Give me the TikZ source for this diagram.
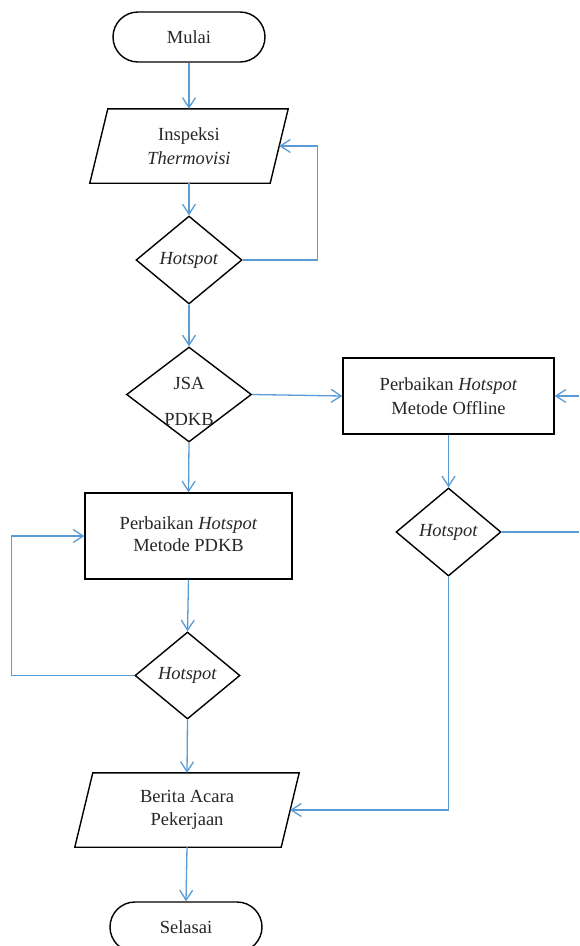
\documentclass[tikz,border=0pt]{standalone}
\usepackage{fontspec}
\setmainfont{Liberation Serif}
\usetikzlibrary{arrows.meta,shapes.geometric,shapes.misc}
\definecolor{flowblue}{RGB}{91,155,213}
\begin{document}
\begin{tikzpicture}[x=1pt,y=-1pt,
  every node/.style={font=\fontsize{18.5}{23.5}\selectfont, align=center, text=black!85},
  outl/.style={draw=black, line width=1.4pt},
  term/.style={outl, rounded rectangle, minimum width=152pt, minimum height=50pt, inner sep=0pt},
  procbox/.style={outl, rectangle, inner sep=0pt},
  decis/.style={outl, diamond, inner sep=0pt},
  iobody/.style={rectangle, inner sep=0pt},
  arr/.style={draw=flowblue, line width=1.3pt, -{Straight Barb[length=10pt,width=13pt]}},
  ln/.style={draw=flowblue, line width=1.3pt}]
\useasboundingbox (0,0) rectangle (579,946);

% nodes
\node[term] (mulai) at (189,37) {\raisebox{-2pt}{Mulai}};

\node[iobody, minimum width=180pt, minimum height=74pt] (insp) at (189,146) {Inspeksi\\\textit{Thermovisi}};
\draw[outl] ([xshift=9pt]insp.north west) -- ([xshift=9pt]insp.north east)
  -- ([xshift=-9pt]insp.south east) -- ([xshift=-9pt]insp.south west) -- cycle;

\node[decis, minimum width=106pt, minimum height=88pt] (hs1) at (189,260) {\textit{Hotspot}};

\node[decis, minimum width=125pt, minimum height=95pt] (jsa) at (189,394.5) {};
\node (jsat) at (189,383) {JSA};
\node (jsab) at (189,419) {PDKB};

\node[procbox, minimum width=211pt, minimum height=76pt] (off) at (448.5,396) {Perbaikan \textit{Hotspot}\\Metode Offline};

\node[decis, minimum width=105pt, minimum height=88pt] (hs2) at (448.5,532) {\textit{Hotspot}};

\node[procbox, minimum width=207pt, minimum height=86pt] (pdkb) at (188.5,536) {\raisebox{4pt}{\shortstack{Perbaikan \textit{Hotspot}\\[2pt]Metode PDKB}}};

\node[decis, minimum width=105pt, minimum height=87pt] (hs3) at (187.5,675.5) {\textit{Hotspot}};

\node[iobody, minimum width=206pt, minimum height=74pt] (berita) at (187,810) {Berita Acara\\Pekerjaan};
\draw[outl] ([xshift=9pt]berita.north west) -- ([xshift=9pt]berita.north east)
  -- ([xshift=-9pt]berita.south east) -- ([xshift=-9pt]berita.south west) -- cycle;

\node[term] (selesai) at (186,927) {\raisebox{-2pt}{Selasai}};

\coordinate (offin) at (579,396);
\coordinate (hs2out) at (579,532);

% connectors
\draw[arr] (mulai.south) -- (insp.north);
\draw[arr] (insp.south) -- (hs1.north);
\draw[arr] (hs1.east) -- ++(75,0) |- (insp.east);
\draw[arr] (hs1.south) -- (jsa.north);
\draw[arr] (jsa.east) -- (off.west);
\draw[arr] (offin) -- (off.east);
\draw[arr] (off.south) -- (hs2.north);
\draw[ln] (hs2.east) -- (hs2out);
\draw[arr] (hs2.south) |- (berita.east);
\draw[arr] (jsa.south) -- (pdkb.north);
\draw[arr] (pdkb.south) -- (hs3.north);
\draw[arr] (hs3.west) -- ++(-123,0) |- (pdkb.west);
\draw[arr] (hs3.south) -- (berita.north);
\draw[arr] (berita.south) -- (selesai.north);
\end{tikzpicture}
\end{document}
